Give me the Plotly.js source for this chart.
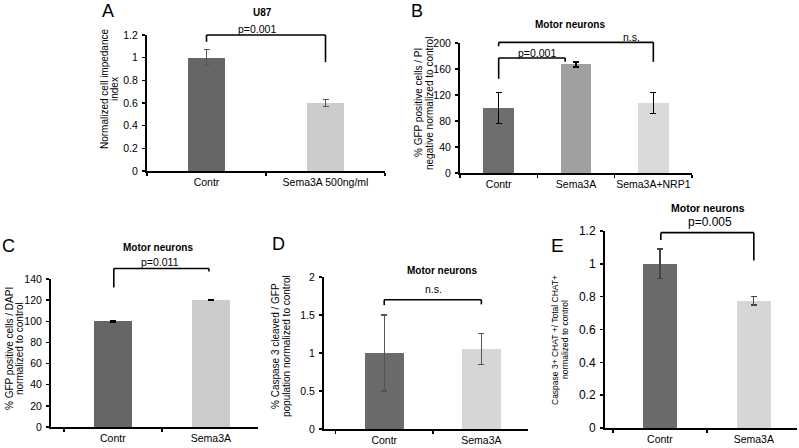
<!DOCTYPE html>
<html>
<head>
<meta charset="utf-8">
<script src="https://cdn.plot.ly/plotly-3.0.1.min.js"></script>
<style>
  body { margin: 0; background: #fff; }
  #plot { width: 799px; height: 448px; }
</style>
</head>
<body>
<div id="plot"></div>
<script>
// A - U87 impedance
let catsA = ["Contr", "Sema3A 500ng/ml"];
let valsA = [1.0, 0.6];
let errA = [0.07, 0.03];

// B - motor neurons, GFP / PI
let catsB = ["Contr", "Sema3A", "Sema3A+NRP1"];
let valsB = [100, 167, 108];
let errB = [24, 4, 16];

// C - motor neurons, GFP / DAPI
let catsC = ["Contr", "Sema3A"];
let valsC = [100, 120];
let errC = [0.6, 0.6];

// D - caspase 3 / GFP
let catsD = ["Contr", "Sema3A"];
let valsD = [1.0, 1.05];
let errD = [0.5, 0.205];

// E - caspase 3 / CHAT
let catsE = ["Contr", "Sema3A"];
let valsE = [1.0, 0.775];
let errE = [0.09, 0.025];

// brackets: [from cat, to cat, top, left foot, right foot]
let bracketsA = [[0, 1, 1.2, 1.14, 0.96]];
let bracketsB = [[0, 0.86, 177, 145, 171], [0, 2, 201, 195, 171]];
let bracketsC = [[0.01, 0.98, 150, 132, 147]];
let bracketsD = [[0, 1, 1.70, 1.63, 1.64]];
let bracketsE = [[0.01, 1, 1.19, 1.145, 1.02]];

const W = 799, H = 448;
function px(x) { return x / W; }
function py(y) { return 1 - y / H; }

let panels = [
    { cats: catsA, vals: valsA, err: errA, br: bracketsA, colors: ["#666666", "#cccccc"], bw: 0.31,
      box: [147, 385, 35, 171], yr: [0, 1.2], dtick: 0.2, xr: [-0.5, 1.5], ec: "#555", yfs: 10.5 },
    { cats: catsB, vals: valsB, err: errB, br: bracketsB, colors: ["#6e6e6e", "#a0a0a0", "#d9d9d9"], bw: 0.4,
      box: [460, 692, 43, 173], yr: [0, 200], dtick: 40, xr: [-0.5, 2.5], ec: "#000", yfs: 10.5 },
    { cats: catsC, vals: valsC, err: errC, br: bracketsC, colors: ["#666666", "#cccccc"], bw: 0.39,
      box: [51, 258, 279, 427], yr: [0, 140], dtick: 20, xr: [-0.63, 1.48], ec: "#000", yfs: 10.5 },
    { cats: catsD, vals: valsD, err: errD, br: bracketsD, colors: ["#6b6b6b", "#d6d6d6"], bw: 0.4,
      box: [324, 528, 277, 429], yr: [0, 2], dtick: 0.5, xr: [-0.62, 1.48], ec: "#555", yfs: 10.5 },
    { cats: catsE, vals: valsE, err: errE, br: bracketsE, colors: ["#6b6b6b", "#d6d6d6"], bw: 0.36,
      box: [605, 797, 231, 428], yr: [0, 1.2], dtick: 0.2, xr: [-0.585, 1.46], ec: "#444", yfs: 12 }
];

let traces = [];
let shapes = [];
let layout = {
    width: W, height: H,
    margin: { l: 0, r: 0, t: 0, b: 0 },
    paper_bgcolor: "#fff", plot_bgcolor: "#fff",
    showlegend: false,
    font: { family: "Liberation Sans, Arial, sans-serif", size: 10, color: "#000" },
    bargap: 0
};

panels.forEach((p, i) => {
    let n = i === 0 ? "" : String(i + 1);
    traces.push({
        type: "bar", x: p.cats, y: p.vals, width: p.bw,
        xaxis: "x" + n, yaxis: "y" + n,
        marker: { color: p.colors, line: { width: 0 } },
        error_y: { type: "data", array: p.err, visible: true, color: p.ec, thickness: 1.3, width: 3 },
        hoverinfo: "none"
    });
    layout["xaxis" + n] = {
        domain: [px(p.box[0]), px(p.box[1])], anchor: "y" + n,
        type: "category", range: p.xr, tickangle: 0,
        showline: true, linewidth: 2, linecolor: "#000",
        ticks: "outside", tickson: "boundaries", ticklen: 3, tickwidth: 1.5, tickcolor: "#000",
        showgrid: false, zeroline: false, fixedrange: true,
        tickfont: { size: 10.5 }
    };
    layout["yaxis" + n] = {
        domain: [py(p.box[3]), py(p.box[2])], anchor: "x" + n,
        range: p.yr, dtick: p.dtick, tick0: 0,
        showline: true, linewidth: 2, linecolor: "#000",
        ticks: "outside", ticklen: 3, tickwidth: 1.5, tickcolor: "#000",
        ticklabelstandoff: 2,
        showgrid: false, zeroline: false, fixedrange: true,
        tickfont: { size: p.yfs }
    };
    // significance brackets, in domain fractions so they are not clipped
    let fx = v => (v - p.xr[0]) / (p.xr[1] - p.xr[0]);
    let fy = v => v / p.yr[1];
    let line = { color: "#000", width: 1.6 };
    p.br.forEach(b => {
        let base = { type: "line", xref: "x" + n + " domain", yref: "y" + n + " domain", line: line };
        shapes.push(Object.assign({}, base, { x0: fx(b[0]), x1: fx(b[0]), y0: fy(b[3]), y1: fy(b[2]) }));
        shapes.push(Object.assign({}, base, { x0: fx(b[0]), x1: fx(b[1]), y0: fy(b[2]), y1: fy(b[2]) }));
        shapes.push(Object.assign({}, base, { x0: fx(b[1]), x1: fx(b[1]), y0: fy(b[4]), y1: fy(b[2]) }));
    });
});

function note(text, x, y, size, extra) {
    return Object.assign({
        text: text, xref: "paper", yref: "paper", x: px(x), y: py(y),
        xanchor: "center", yanchor: "middle", showarrow: false,
        font: { size: size }
    }, extra || {});
}

// rotated two-line y titles, one annotation per line for tight spacing
function ytitle(lines, xs, yc, size) {
    return lines.map((t, k) => note(t, xs[k], yc, size, { textangle: -90 }));
}

let annotations = [
    // panel letters
    note("A", 108, 11, 18),
    note("B", 417, 11, 18),
    note("C", 8, 246, 18),
    note("D", 278, 244, 18),
    note("E", 557, 245, 19),
    // titles
    note("<b>U87</b>", 262, 13, 10),
    note("<b>Motor neurons</b>", 570, 24, 10),
    note("<b>Motor neurons</b>", 158, 247, 10),
    note("<b>Motor neurons</b>", 442, 270, 10),
    note("<b>Motor neurons</b>", 708, 208, 10.5),
    // p values
    note("p=0.001", 257, 29, 10.5),
    note("p=0.001", 537, 53, 10.5),
    note("n.s.", 631, 37, 10.5),
    note("p=0.011", 160, 262, 10.5),
    note("n.s.", 433, 289, 10.5),
    note("p=0.005", 710, 222, 12)
].concat(
    ytitle(["Normalized cell impedance", "index"], [104, 114], 89, 10),
    ytitle(["% GFP positive cells / PI", "negative normalized to control"], [418, 429], 103, 10),
    ytitle(["% GFP positive cells / DAPI", "normalized to control"], [9, 19], 349, 10),
    ytitle(["% Caspase 3 cleaved / GFP", "population normalized to control"], [275, 286], 346, 10),
    ytitle(["Caspase 3+ CHAT +/ Total CHAT+", "normalized to control"], [555, 565], 340, 8.5)
);

layout.shapes = shapes;
layout.annotations = annotations;

Plotly.newPlot("plot", traces, layout, { staticPlot: true });
</script>
</body>
</html>
